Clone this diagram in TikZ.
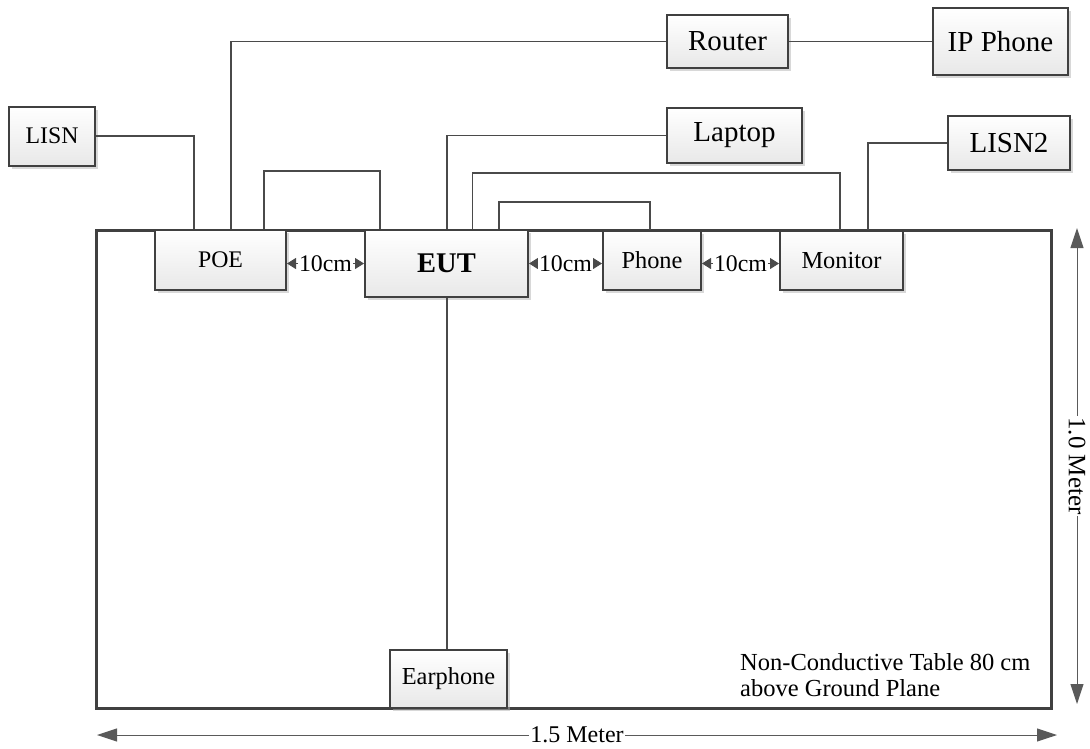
\documentclass[tikz,border=0pt]{standalone}
\usepackage{fontspec}
\setmainfont{Liberation Serif}
\usetikzlibrary{arrows.meta,shadows}
\definecolor{edgec}{HTML}{404040}
\definecolor{wirec}{HTML}{4A4A4A}
\definecolor{dimc}{HTML}{5A5A5A}
\begin{document}
\begin{tikzpicture}[x=1pt,y=-1pt,
  box/.style={draw=edgec, line width=2pt, top color=white, bottom color=black!9,
    drop shadow={shadow xshift=3pt, shadow yshift=-3pt, fill=black!30, opacity=0.5},
    inner sep=0pt, align=center},
  tablebox/.style={draw=edgec, line width=3pt, fill=white,
    drop shadow={shadow xshift=2pt, shadow yshift=-2pt, fill=black!25, opacity=0.5}},
  bigtxt/.style={font=\fontsize{29}{33}\selectfont},
  midtxt/.style={font=\fontsize{24.4}{28}\selectfont},
  smtxt/.style={font=\fontsize{23.8}{27}\selectfont},
  wire/.style={draw=wirec, line width=1.1pt},
  tenarr/.style={draw=wirec, line width=1pt, {Triangle[length=9pt,width=11pt]}-{Triangle[length=9pt,width=11pt]}},
  dim/.style={draw=dimc, line width=1pt, {Triangle[length=20pt,width=13pt]}-{Triangle[length=20pt,width=13pt]}},
  lbl/.style={fill=white, inner xsep=1.5pt, inner ysep=1pt}
]
\useasboundingbox (0,0) rectangle (1090,748);

% table
\node[tablebox, minimum width=955pt, minimum height=478pt] (table) at (573.5,469) {};

% boxes
\node[box, smtxt, minimum width=86pt, minimum height=59pt] (lisn) at (52,136) {LISN};
\node[box, bigtxt, minimum width=121pt, minimum height=53pt] (router) at (727.5,41.5) {Router};
\node[box, bigtxt, minimum width=135pt, minimum height=67pt] (ipphone) at (1000.5,41.5) {IP Phone};
\node[box, bigtxt, minimum width=135pt, minimum height=55pt] (laptop) at (734.5,135.5) {Laptop};
\node[box, bigtxt, minimum width=122pt, minimum height=54pt] (lisn2) at (1009,143) {LISN2};
\node[box, smtxt, minimum width=131pt, minimum height=60pt] (poe) at (220.5,260) {POE};
\node[box, font=\fontsize{28.5}{32}\selectfont\bfseries, minimum width=163pt, minimum height=67pt] (eut) at (446.5,263.5) {EUT};
\node[box, midtxt, minimum width=98pt, minimum height=59pt] (phone) at (652,260.5) {Phone};
\node[box, midtxt, minimum width=123pt, minimum height=59pt] (monitor) at (841.5,260.5) {Monitor};
\node[box, midtxt, minimum width=117pt, minimum height=58pt] (earphone) at (448.5,679) {Earphone};

% wires
\draw[wire] (lisn.east) -| ([xshift=-26.5pt]poe.north);
\draw[wire] (router.west) -| ([xshift=10.5pt]poe.north);
\draw[wire] ([xshift=43.5pt]poe.north) -- ++(0,-58) -| ([xshift=-66.5pt]eut.north);
\draw[wire] (laptop.west) -| ([xshift=0.5pt]eut.north);
\draw[wire] ([xshift=26pt]eut.north) -- ++(0,-56) -| ([xshift=-1.5pt]monitor.north);
\draw[wire] ([xshift=52.5pt]eut.north) -- ++(0,-27) -| ([xshift=-2pt]phone.north);
\draw[wire] (lisn2.west) -| ([xshift=26.5pt]monitor.north);
\draw[wire] (router.east) -- (ipphone.west);
\draw[wire] ([xshift=0.5pt]eut.south) -- ([xshift=0.5pt]eut.south |- earphone.north);

% 10cm spacings
\draw[tenarr] (poe.east |- eut.west) -- (eut.west) node[midway, lbl, smtxt] {10cm};
\draw[tenarr] (eut.east) -- (phone.west |- eut.east) node[midway, lbl, smtxt] {10cm};
\draw[tenarr] (phone.east |- eut.east) -- (monitor.west |- eut.east) node[midway, lbl, smtxt] {10cm};

% table note
\node[anchor=north west, align=left, inner sep=0pt, font=\fontsize{24.5}{26}\selectfont] (note) at (740,653) {Non-Conductive Table 80 cm\\above Ground Plane};

% dimensions
\draw[dim] ([xshift=24.5pt,yshift=0.5pt]table.north east) -- ([xshift=24.5pt,yshift=5.5pt]table.south east)
  node[midway, lbl, inner ysep=0pt, rotate=-90, font=\fontsize{25}{27}\selectfont] {1.0 Meter};
\draw[dim] ([xshift=2.5pt,yshift=-25.5pt]table.south west) -- ([xshift=4.5pt,yshift=-25.5pt]table.south east)
  node[midway, lbl, inner ysep=0pt, font=\fontsize{24}{27}\selectfont] {1.5 Meter};
\end{tikzpicture}
\end{document}
